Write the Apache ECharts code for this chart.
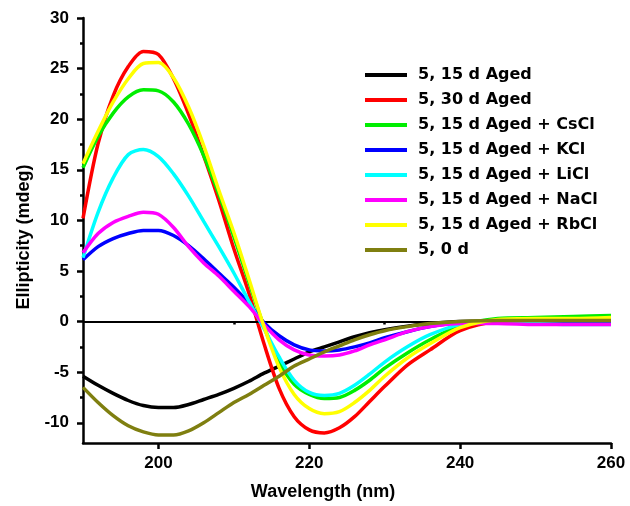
<!DOCTYPE html>
<html>
<head>
<meta charset="utf-8">
<script src="https://cdn.jsdelivr.net/npm/echarts@6/dist/echarts.min.js"></script>
<style>
  html, body { margin: 0; padding: 0; background: #fff; }
  #chart { width: 630px; height: 506px; }
</style>
</head>
<body>
<div id="chart"></div>
<script>
// wavelength (nm)
const wavelength = [190, 192, 194, 196, 198, 200, 202, 204, 206, 208, 210, 212, 214, 216,
  218, 220, 222, 224, 226, 228, 230, 233, 236, 240, 245, 250, 255, 260];

// ellipticity (mdeg) per sample
const aged15 = [-5.4, -6.3, -7.1, -7.8, -8.3, -8.5, -8.5, -8.2, -7.7, -7.2, -6.6, -5.9, -5.1, -4.4,
  -3.7, -3.0, -2.5, -2.0, -1.5, -1.1, -0.8, -0.45, -0.2, 0, 0.05, 0, 0, 0];
const aged30 = [10.2, 17.6, 22.3, 25.2, 26.7, 26.4, 24.0, 20.5, 16.4, 12.0, 7.2, 2.8, -2.2, -6.6,
  -9.4, -10.7, -11.0, -10.5, -9.4, -7.9, -6.4, -4.3, -2.8, -0.9, 0, 0.1, 0.1, 0.1];
const agedCsCl = [15.2, 18.3, 20.6, 22.2, 22.9, 22.8, 21.7, 19.5, 16.4, 12.6, 8.4, 3.9, -0.5, -4.0,
  -6.2, -7.2, -7.6, -7.5, -6.8, -5.8, -4.6, -3.1, -1.8, -0.4, 0.3, 0.4, 0.5, 0.6];
const agedKCl = [6.1, 7.4, 8.2, 8.7, 9.0, 9.0, 8.5, 7.5, 6.2, 4.8, 3.4, 1.8, -0.1, -1.4,
  -2.3, -2.8, -2.9, -2.8, -2.5, -2.1, -1.6, -1.0, -0.5, -0.1, 0, -0.1, -0.2, -0.2];
const agedLiCl = [6.3, 10.8, 14.2, 16.5, 17.0, 16.3, 14.6, 12.4, 9.9, 7.4, 4.8, 2.0, -0.7, -3.5,
  -5.8, -7.0, -7.3, -7.1, -6.3, -5.2, -4.0, -2.5, -1.3, -0.3, -0.1, -0.2, -0.3, -0.3];
const agedNaCl = [6.8, 8.7, 9.8, 10.4, 10.8, 10.6, 9.3, 7.4, 5.8, 4.5, 3.0, 1.5, -0.3, -1.8,
  -2.8, -3.3, -3.4, -3.3, -2.9, -2.3, -1.8, -1.0, -0.5, -0.2, -0.2, -0.3, -0.3, -0.3];
const agedRbCl = [15.6, 18.8, 21.7, 24.0, 25.5, 25.6, 24.1, 21.2, 17.4, 13.0, 8.8, 4.2, -0.5, -4.5,
  -7.2, -8.6, -9.1, -8.9, -8.0, -6.8, -5.4, -3.6, -2.2, -0.6, 0.2, 0.3, 0.3, 0.4];
const day0 = [-6.5, -8.0, -9.3, -10.3, -10.9, -11.2, -11.2, -10.8, -10.0, -9.0, -8.0, -7.2, -6.3, -5.4,
  -4.4, -3.7, -3.0, -2.4, -1.8, -1.3, -0.9, -0.5, -0.2, 0, 0.1, 0.1, 0.1, 0.1];

// tick labels
const xMajor = [200, 220, 240, 260];
const xMinor = [210, 230, 250];
const yMajor = [-10, -5, 0, 5, 10, 15, 20, 25, 30];
const yMinor = [-7.5, -2.5, 2.5, 7.5, 12.5, 17.5, 22.5, 27.5];

const names = ["5, 15 d Aged", "5, 30 d Aged", "5, 15 d Aged + CsCl", "5, 15 d Aged + KCl",
  "5, 15 d Aged + LiCl", "5, 15 d Aged + NaCl", "5, 15 d Aged + RbCl", "5, 0 d"];
const values = [aged15, aged30, agedCsCl, agedKCl, agedLiCl, agedNaCl, agedRbCl, day0];
const colors = ["#000000", "#ff0000", "#00ee00", "#0000ff", "#00ffff", "#ff00ff", "#ffff00", "#7f7f10"];

const tickFont = { fontFamily: "Liberation Sans", fontWeight: "bold", fontSize: 17, color: "#000" };
const axisLineStyle = { color: "#000", width: 2.5 };

let series = names.map((name, i) => ({
  name: name,
  type: "line",
  smooth: 0.3,
  showSymbol: false,
  data: wavelength.map((w, j) => [w, values[i][j]]),
  lineStyle: { color: colors[i], width: 3.5 },
  itemStyle: { color: colors[i] },
  z: 2 + i,
}));
// zero line
series[0].markLine = {
  silent: true,
  symbol: "none",
  label: { show: false },
  lineStyle: { color: "#000", width: 2, type: "solid" },
  data: [{ yAxis: 0 }],
};

let myChart = echarts.init(document.getElementById("chart"));
let option = {
  animation: false,
  backgroundColor: "#fff",
  grid: { left: 83, right: 19, top: 18, bottom: 61 },
  legend: {
    orient: "vertical",
    left: 360,
    top: 62,
    itemWidth: 42,
    itemHeight: 4,
    itemGap: 9,
    icon: "rect",
    data: names,
    textStyle: {
      fontFamily: "DejaVu Sans",
      fontWeight: "bold",
      fontSize: 16,
      color: "#000",
      padding: [0, 0, 0, 6],
    },
  },
  xAxis: [
    {
      type: "value",
      min: 190,
      max: 260,
      name: "Wavelength (nm)",
      nameLocation: "middle",
      nameGap: 40,
      nameTextStyle: { fontFamily: "Liberation Sans", fontWeight: "bold", fontSize: 18, color: "#000", padding: [0, 48, 0, 0] },
      axisLine: { show: true, onZero: false, lineStyle: axisLineStyle },
      axisTick: { show: true, length: 6, customValues: xMajor, lineStyle: axisLineStyle },
      axisLabel: Object.assign({ customValues: xMajor, margin: 12 }, tickFont),
      splitLine: { show: false },
    },
    {
      type: "value",
      min: 190,
      max: 260,
      position: "bottom",
      axisLine: { show: false },
      axisTick: { show: true, length: 3, customValues: xMinor, lineStyle: axisLineStyle },
      axisLabel: { show: false },
      splitLine: { show: false },
    },
  ],
  yAxis: [
    {
      type: "value",
      min: -12,
      max: 30,
      position: "left",
      name: "Ellipticity (mdeg)",
      nameLocation: "middle",
      nameGap: 50,
      nameTextStyle: { fontFamily: "Liberation Sans", fontWeight: "bold", fontSize: 18, color: "#000", padding: [0, 13, 0, 0] },
      axisLine: { show: true, onZero: false, lineStyle: axisLineStyle },
      axisTick: { show: true, length: 6, customValues: yMajor, lineStyle: axisLineStyle },
      axisLabel: Object.assign({ customValues: yMajor, margin: 14 }, tickFont),
      splitLine: { show: false },
    },
    {
      type: "value",
      min: -12,
      max: 30,
      position: "left",
      axisLine: { show: false },
      axisTick: { show: true, length: 3, customValues: yMinor, lineStyle: axisLineStyle },
      axisLabel: { show: false },
      splitLine: { show: false },
    },
  ],
  series: series,
};
myChart.setOption(option);
</script>
</body>
</html>
